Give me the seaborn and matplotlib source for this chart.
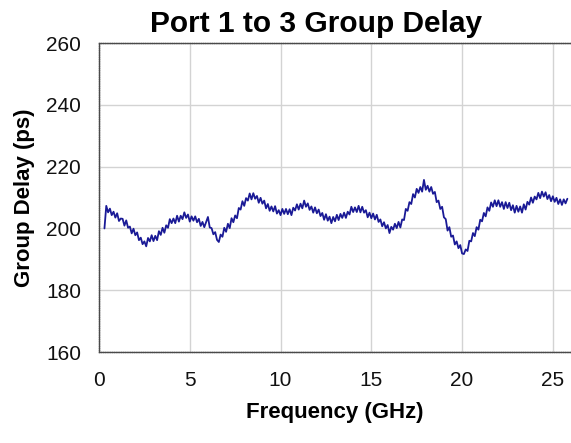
import numpy as np
import pandas as pd
import matplotlib
matplotlib.use("Agg")
import matplotlib.pyplot as plt
import seaborn as sns

# ================== data ==================
# sweep: 0.3 .. 25.8 GHz, 0.1 GHz step
freq_start, freq_stop, n_points = 0.3, 25.8, 256

# group delay (ps), one row per GHz
delay_ps = [
    200.0, 207.3, 205.2, 206.4, 204.3, 205.4, 203.5, 204.9, 202.4, 203.2,  # 0.3-1.2
    203.1, 200.9, 202.6, 200.2, 200.6, 198.4, 199.9, 197.8, 198.7, 196.2,  # 1.3-2.2
    197.0, 194.9, 195.8, 194.2, 196.9, 195.8, 197.8, 195.9, 197.6, 196.2,  # 2.3-3.2
    199.1, 197.9, 200.2, 198.6, 201.0, 200.2, 203.0, 201.7, 203.2, 201.7,  # 3.3-4.2
    204.1, 202.2, 204.1, 203.0, 205.2, 203.4, 204.5, 202.2, 203.9, 202.5,  # 4.3-5.2
    203.9, 202.0, 203.1, 200.8, 202.1, 200.4, 202.1, 203.7, 200.3, 200.1,  # 5.3-6.2
    198.1, 198.8, 196.3, 195.6, 198.0, 197.3, 200.2, 198.9, 201.5, 200.1,  # 6.3-7.2
    203.3, 202.0, 204.2, 203.3, 206.6, 206.1, 208.8, 207.3, 209.8, 209.0,  # 7.3-8.2
    211.3, 209.4, 211.4, 209.6, 210.5, 208.3, 209.9, 208.0, 209.0, 206.5,  # 8.3-9.2
    207.9, 205.7, 207.1, 205.5, 207.2, 204.8, 205.9, 204.3, 206.3, 204.7,  # 9.3-10.2
    206.3, 204.6, 206.2, 204.3, 206.7, 205.8, 207.8, 206.1, 208.0, 206.5,  # 10.3-11.2
    209.0, 207.0, 208.1, 206.0, 207.1, 205.1, 206.8, 204.9, 206.1, 204.0,  # 11.3-12.2
    205.0, 202.8, 204.6, 202.5, 203.8, 201.7, 203.7, 202.3, 204.4, 202.7,  # 12.3-13.2
    204.7, 203.4, 205.1, 203.4, 205.4, 204.5, 207.0, 205.3, 206.8, 205.3,  # 13.3-14.2
    207.3, 205.2, 207.0, 205.1, 205.9, 203.6, 205.1, 203.3, 204.8, 202.9,  # 14.3-15.2
    204.4, 202.1, 202.9, 200.7, 202.0, 200.0, 201.1, 198.5, 200.5, 199.6,  # 15.3-16.2
    201.5, 200.1, 202.1, 200.3, 202.9, 202.7, 206.3, 205.7, 208.5, 207.9,  # 16.3-17.2
    211.1, 210.0, 212.8, 211.5, 213.4, 211.9, 215.7, 212.5, 213.8, 211.9,  # 17.3-18.2
    213.4, 211.2, 211.8, 208.5, 209.0, 206.3, 207.0, 203.6, 203.0, 199.3,  # 18.3-19.2
    200.4, 197.3, 197.7, 194.8, 195.8, 193.6, 194.6, 191.9, 191.7, 193.2,  # 19.3-20.2
    192.7, 196.0, 195.8, 198.5, 197.5, 200.4, 199.6, 202.8, 202.3, 205.0,  # 20.3-21.2
    203.9, 206.8, 205.7, 208.4, 207.0, 209.1, 207.2, 209.1, 207.0, 208.5,  # 21.3-22.2
    206.3, 208.5, 206.6, 208.3, 205.9, 207.5, 205.1, 207.3, 205.4, 207.1,  # 22.3-23.2
    205.1, 207.8, 206.1, 208.6, 207.7, 210.0, 208.3, 210.3, 209.4, 211.5,  # 23.3-24.2
    209.8, 211.9, 210.3, 211.7, 209.5, 210.8, 208.8, 210.4, 208.6, 209.9,  # 24.3-25.2
    207.9, 209.4, 207.6, 209.4, 208.1, 209.6,                              # 25.3-25.8
]

x_ticks = [0, 5, 10, 15, 20, 25]
y_ticks = [160, 180, 200, 220, 240, 260]
# ====================================================================

freq = np.round(np.linspace(freq_start, freq_stop, n_points), 2)
df = pd.DataFrame({"Freq": freq, "Delay": delay_ps})

sns.set_theme(style="whitegrid")
plt.rcParams["font.family"] = ["Liberation Sans", "DejaVu Sans"]
plt.rcParams["text.color"] = "black"
plt.rcParams["axes.labelcolor"] = "black"

fig = plt.figure(figsize=(5.71, 4.43), dpi=100)
ax = fig.add_axes([0.1734, 0.2054, 0.8266, 0.6975])

sns.lineplot(data=df, x="Freq", y="Delay", estimator=None, sort=False,
             color="#1a1a96", linewidth=1.3, ax=ax)

ax.set_xlim(0, 26)
ax.set_ylim(160, 260)
ax.set_xticks(x_ticks)
ax.set_yticks(y_ticks)
ax.set_facecolor("white")
ax.grid(True, color="#d3d3d3", linewidth=1.0)

for side in ["left", "bottom", "top"]:
    ax.spines[side].set_visible(True)
    ax.spines[side].set_color("#4a4a4a")
    ax.spines[side].set_linewidth(1.0)
    ax.spines[side].set_linestyle((0, (1, 0.6)))
ax.spines["right"].set_visible(False)

ax.tick_params(axis="both", which="major", direction="out", length=3,
               width=0.8, color="#bbbbbb", labelsize=15, labelcolor="#111111")
ax.tick_params(axis="y", pad=10)
ax.tick_params(axis="x", pad=11)

ax.set_xlabel("Frequency (GHz)", fontsize=16, fontweight="bold", labelpad=8)
ax.set_ylabel("Group Delay (ps)", fontsize=16, fontweight="bold", labelpad=8)
fig.suptitle("Port 1 to 3 Group Delay", x=0.553, y=0.978, fontsize=21.5,
             fontweight="bold", va="top", color="black")

plt.savefig("out.png", dpi=100)
